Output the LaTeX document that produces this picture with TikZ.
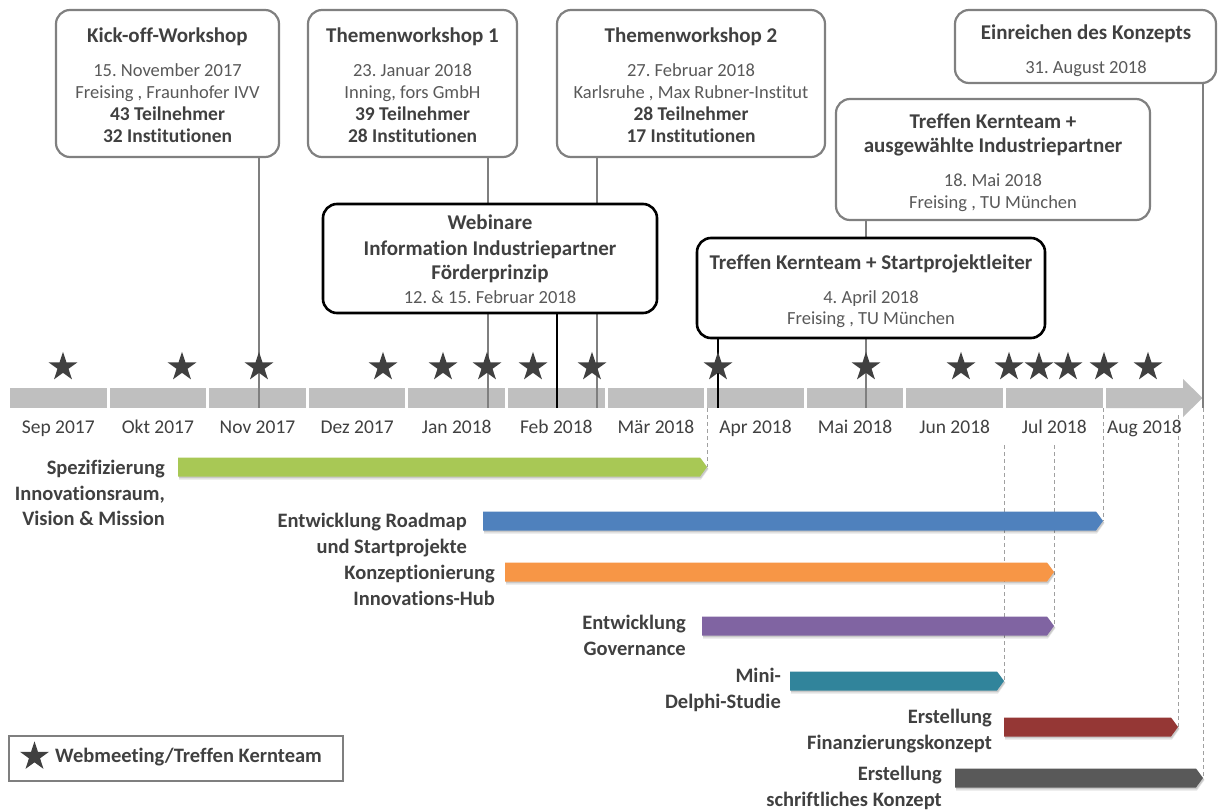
\documentclass[tikz,border=0pt]{standalone}
\usepackage{fontspec}
\setmainfont{Carlito}[Ligatures=NoCommon]
\frenchspacing
\usetikzlibrary{shapes.geometric}
\definecolor{txtb}{HTML}{404040}
\definecolor{txtr}{HTML}{595959}
\definecolor{boxg}{HTML}{808080}
\definecolor{barg}{HTML}{BFBFBF}
\definecolor{linegray}{HTML}{7F7F7F}
\definecolor{dashg}{HTML}{A0A0A0}
\definecolor{starc}{HTML}{404040}
\definecolor{cgreen}{HTML}{A8C855}
\definecolor{cblue}{HTML}{4F81BD}
\definecolor{corange}{HTML}{F79646}
\definecolor{cpurple}{HTML}{8064A2}
\definecolor{cteal}{HTML}{31849B}
\definecolor{cred}{HTML}{953735}
\definecolor{cdark}{HTML}{595959}
\pgfdeclarelayer{back}
\pgfdeclarelayer{mid}
\pgfsetlayers{back,mid,main}
\newcommand\ttl[1]{{\fontsize{21}{22}\selectfont\bfseries\color{txtb}#1}}
\newcommand\bld[1]{{\fontsize{19.5}{22}\selectfont\bfseries\color{txtb}#1}}
\newcommand\tlbar[5]{%
  \fill[black,opacity=.10] (#2+1,#4-7.5) -- (#3-7+1,#4-7.5) -- (#3+1.5,#4+2) -- (#3-7+1,#4+12.5) -- (#2+1,#4+12.5) -- cycle;
  \fill[black,opacity=.12] (#2+1,#4-8.5) -- (#3-7+1,#4-8.5) -- (#3+1,#4+1.5) -- (#3-7+1,#4+11) -- (#2+1,#4+11) -- cycle;
  \fill[#5] (#2,#4-9.5) -- (#3-7,#4-9.5) -- (#3,#4) -- (#3-7,#4+9.5) -- (#2,#4+9.5) -- cycle;
  \coordinate (#1) at (#3,#4);
}
\tikzset{
  evbox/.style={draw=boxg, line width=2.2pt, rounded corners=14pt, fill=white, inner sep=0pt},
  evboxk/.style={evbox, draw=black, line width=2.6pt},
  evtext/.style={align=center, inner sep=0pt, text=txtr, font=\fontsize{18.5}{22}\selectfont},
  mlabel/.style={anchor=base, inner sep=0pt, text=txtb, font=\fontsize{19.5}{22}\selectfont},
  alabel/.style={anchor=north east, align=right, inner sep=0pt, text=txtb, font=\fontsize{20.5}{25.5}\selectfont\bfseries},
  kstar/.style={star, star points=5, star point ratio=2.618, minimum size=30.5pt, inner sep=0pt, fill=starc, draw=none},
  vgray/.style={draw=linegray, line width=2pt},
  vblack/.style={draw=black, line width=2.6pt},
  vdash/.style={draw=dashg, line width=1pt, dash pattern=on 4pt off 3pt}
}
\begin{document}
\begin{tikzpicture}[x=1pt,y=-1pt]
\useasboundingbox (0,0) rectangle (1218,809);

% ---------- time bar ----------
\begin{pgfonlayer}{back}
\fill[white] (0,0) rectangle (1218,809);
\foreach \i in {0,...,10} {
  \fill[barg] ({10+\i*99.6},388) rectangle ({10+\i*99.6+96.6},408);
}
\fill[barg] (1106,388) -- (1183,388) -- (1183,379) -- (1202.5,398) -- (1183,417) -- (1183,408) -- (1106,408) -- cycle;
\end{pgfonlayer}

\foreach \x/\m [count=\i] in {58.3/Sep 2017, 157.9/Okt 2017, 257.5/Nov 2017, 357.1/Dez 2017, 456.7/Jan 2018, 556.3/Feb 2018, 655.9/Mär 2018, 755.5/Apr 2018, 855.1/Mai 2018, 954.7/Jun 2018, 1054.3/Jul 2018, 1144.5/Aug 2018} {
  \node[mlabel] (m\i) at (\x,433.5) {\m};
}

% ---------- event boxes ----------
\node[evbox, minimum width=223pt, minimum height=147pt] (kick) at (167.5,83.5) {};
\node[evtext] (kickT) at (167.5,85) {\ttl{Kick-off-Workshop}\\[12pt]15. November 2017\\Freising , Fraunhofer IVV\\\bld{43 Teilnehmer}\\\bld{32 Institutionen}};

\node[evbox, minimum width=209pt, minimum height=147pt] (tw1) at (412.5,83.5) {};
\node[evtext] (tw1T) at (412.5,85) {\ttl{Themenworkshop 1}\\[12pt]23. Januar 2018\\Inning, fors GmbH\\\bld{39 Teilnehmer}\\\bld{28 Institutionen}};

\node[evbox, minimum width=268pt, minimum height=147pt] (tw2) at (691,83.5) {};
\node[evtext] (tw2T) at (691,85) {\ttl{Themenworkshop 2}\\[12pt]27. Februar 2018\\Karlsruhe , Max Rubner-Institut\\\bld{28 Teilnehmer}\\\bld{17 Institutionen}};

\node[evbox, minimum width=261pt, minimum height=73pt] (ein) at (1085.5,46.5) {};
\node[evtext] (einT) at (1086,51) {\ttl{Einreichen des Konzepts}\\[12pt]31. August 2018};

\node[evbox, minimum width=314pt, minimum height=121pt] (ind) at (993,159.5) {};
\node[evtext] (indT) at (993,163) {\ttl{Treffen Kernteam +}\\[2pt]\ttl{ausgewählte Industriepartner}\\[12pt]18. Mai 2018\\Freising , TU München};

\node[evboxk, minimum width=334pt, minimum height=109pt] (web) at (490,258.5) {};
\node[evtext, font=\fontsize{18.5}{24}\selectfont] (webT) at (490,259) {\ttl{Webinare}\\[2pt]\ttl{Information Industriepartner}\\\ttl{Förderprinzip}\\12. \& 15. Februar 2018};

\node[evboxk, minimum width=348pt, minimum height=100pt] (start) at (871,288) {};
\node[evtext, font=\fontsize{18.5}{21}\selectfont] (startT) at (871,291.5) {\ttl{Treffen Kernteam + Startprojektleiter}\\[13pt]4. April 2018\\Freising , TU München};

% ---------- connectors to the time bar ----------
\coordinate (pKick) at (259,408);
\coordinate (pTw1) at (488,408);
\coordinate (pTw2) at (596.5,408);
\coordinate (pWeb) at (557,408);
\coordinate (pStart) at (718,408);
\coordinate (pInd) at (866,408);
\coordinate (pEin) at (1203,408);
\begin{pgfonlayer}{mid}
\draw[vgray] (pKick |- kick.south) -- (pKick);
\draw[vgray] (pTw1 |- tw1.south) -- (pTw1);
\draw[vgray] (pTw2 |- tw2.south) -- (pTw2);
\draw[vgray] (pInd |- ind.south) -- (pInd);
\draw[vgray] (pEin |- ein.south) -- (pEin);
\draw[vblack] (pWeb |- web.south) -- (pWeb);
\draw[vblack] (pStart |- start.south) -- (pStart);
\end{pgfonlayer}

% ---------- stars ----------
\foreach \x [count=\i] in {63,182,259,383,443,487,533,592,718,866,961,1009,1039,1068,1104,1148} {
  \node[kstar] (st\i) at (\x,367) {};
}

% ---------- work packages ----------
\tlbar{gTip}{178}{707}{467}{cgreen}
\tlbar{bTip}{483}{1103}{521}{cblue}
\tlbar{oTip}{505}{1054}{572}{corange}
\tlbar{pTip}{702}{1054}{626}{cpurple}
\tlbar{tTip}{790}{1004}{681}{cteal}
\tlbar{rTip}{1004}{1178}{727}{cred}
\tlbar{kTip}{955}{1203}{778}{cdark}

\node[alabel] (lSpez) at (165,460) {Spezifizierung\\Innovationsraum,\\Vision \& Mission};
\node[alabel] (lRoad) at (467,513) {Entwicklung Roadmap\\und Startprojekte};
\node[alabel] (lKonz) at (495,565) {Konzeptionierung\\Innovations-Hub};
\node[alabel] (lGov) at (686,615) {Entwicklung\\Governance};
\node[alabel] (lMini) at (781,668) {Mini-\\Delphi-Studie};
\node[alabel] (lFin) at (992,709) {Erstellung\\Finanzierungskonzept};
\node[alabel] (lSchr) at (942,766) {Erstellung\\schriftliches Konzept};

% ---------- dashed guides ----------
\coordinate (d1) at (707,408);
\coordinate (d2) at (1103,408);
\coordinate (d3) at (1054,445);
\coordinate (d4) at (1004,445);
\coordinate (d5) at (1178,415);
\coordinate (d6) at (1203,408);
\begin{pgfonlayer}{mid}
\draw[vdash] (d1) -- (gTip);
\draw[vdash] (d2) -- (bTip);
\draw[vdash] (d3) -- (pTip);
\draw[vdash] (d4) -- (tTip);
\draw[vdash] (d5) -- (rTip);
\draw[vdash] (d6) -- (kTip);
\end{pgfonlayer}

% ---------- legend ----------
\node[draw=linegray, line width=1.5pt, minimum width=334pt, minimum height=45pt, inner sep=0pt] (legend) at (176,758.5) {};
\node[kstar] (lstar) at (34.5,756.5) {};
\node[anchor=base west, inner sep=0pt, text=txtb, font=\fontsize{20.5}{22}\selectfont\bfseries] (ltext) at (55,762) {Webmeeting/Treffen Kernteam};
\end{tikzpicture}
\end{document}
